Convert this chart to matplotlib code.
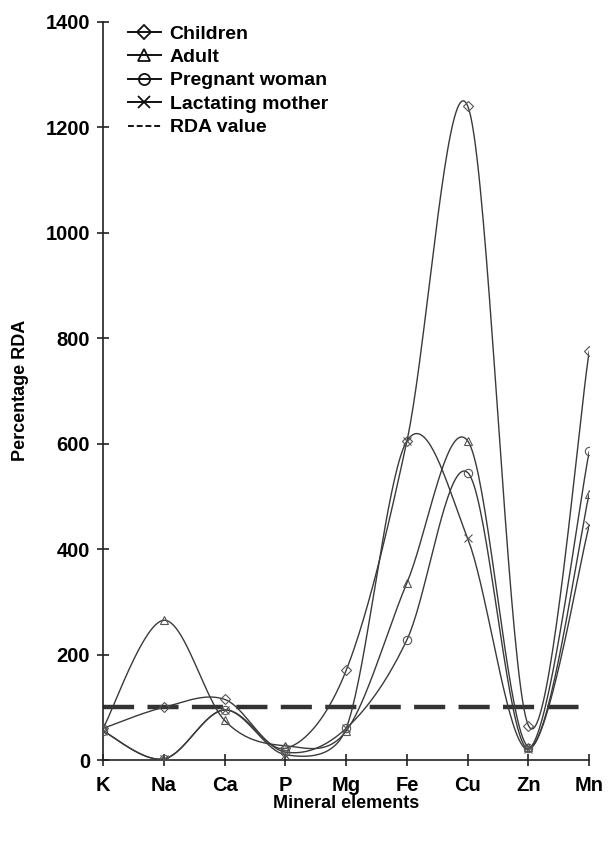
import numpy as np
import matplotlib.pyplot as plt

plt.rcParams['font.family'] = ['Liberation Sans', 'DejaVu Sans']
plt.rcParams['font.weight'] = 'bold'
plt.rcParams['axes.labelweight'] = 'bold'

# data
elements = ["K", "Na", "Ca", "P", "Mg", "Fe", "Cu", "Zn", "Mn"]
children = [60, 100, 115, 22, 170, 605, 1240, 65, 775]
adult = [60, 265, 75, 27, 55, 336, 605, 25, 505]
pregnant = [55, 2, 95, 15, 60, 228, 545, 22, 585]
lactating = [55, 2, 95, 10, 60, 605, 420, 20, 445]
rda = 100

series = [("Children", children, "D"),
          ("Adult", adult, "^"),
          ("Pregnant woman", pregnant, "o"),
          ("Lactating mother", lactating, "x")]

# pixel scale of one category / one unit, used for the smoothing handles
XS, YS = 60.75, 0.527


def smooth(y, n=40):
    # bezier smoothing like a spreadsheet "smoothed line":
    # handles are 1/6 of the neighbour chord, but never more than half the segment
    p = np.column_stack([np.arange(len(y)) * XS, np.asarray(y, dtype=float) * YS])
    t = np.linspace(0, 1, n)[:, None]
    segs = []
    for i in range(len(p) - 1):
        seg_len = np.hypot(*(p[i + 1] - p[i]))
        h1 = (p[i + 1] - p[max(i - 1, 0)]) / 6
        h2 = (p[min(i + 2, len(p) - 1)] - p[i]) / 6
        for h in (h1, h2):
            L = np.hypot(*h)
            if L > seg_len / 2:
                h *= seg_len / 2 / L
        c1 = p[i] + h1
        c2 = p[i + 1] - h2
        segs.append((1 - t) ** 3 * p[i] + 3 * (1 - t) ** 2 * t * c1
                    + 3 * (1 - t) * t ** 2 * c2 + t ** 3 * p[i + 1])
    s = np.vstack(segs)
    return s[:, 0] / XS, s[:, 1] / YS


fig = plt.figure(figsize=(6.1, 8.41), dpi=100)
ax = fig.add_axes([0.169, 0.0963, 0.797, 0.878])

x = np.arange(len(elements))
for name, vals, mk in series:
    sx, sy = smooth(vals)
    ax.plot(sx, sy, color="#3a3a3a", lw=1.0, zorder=3)
    ax.plot(x, vals, linestyle="none", marker=mk, ms=6 if mk != "D" else 5,
            mfc="none", mec="#555555", mew=0.8, zorder=4)
    # legend proxy
    ax.plot([], [], color="#111111", lw=1.4, marker=mk, ms=8 if mk != "D" else 7,
            mfc="none", mec="#111111", mew=1.3, label=name)

ax.axhline(rda, color="#333333", lw=3.2, dashes=(7, 3), zorder=2)
ax.plot([], [], color="#111111", lw=1.4, dashes=(3, 1.5), label="RDA value")

ax.set_xlim(0, len(elements) - 1)
ax.set_ylim(0, 1400)
ax.set_xticks(x)
ax.set_xticklabels(elements)
ax.set_yticks(np.arange(0, 1401, 200))
for side in ("top", "right"):
    ax.spines[side].set_visible(False)
for side in ("left", "bottom"):
    ax.spines[side].set_color("#222222")
    ax.spines[side].set_linewidth(1.2)
ax.tick_params(axis="both", direction="inout", length=9, width=1.2,
               colors="#222222", labelcolor="black", labelsize=14.5)
ax.tick_params(axis="x", pad=7)
ax.tick_params(axis="y", pad=5)

ax.set_xlabel("Mineral elements", fontsize=13, labelpad=0)
ax.set_ylabel("Percentage RDA", fontsize=13)
ax.yaxis.set_label_coords(-0.152, 0.5)

leg = ax.legend(loc="upper left", bbox_to_anchor=(0.035, 1.006), frameon=False,
                fontsize=14, handlelength=1.7, handletextpad=0.45,
                labelspacing=0.3, borderaxespad=0)

fig.savefig("out.png", dpi=100)
